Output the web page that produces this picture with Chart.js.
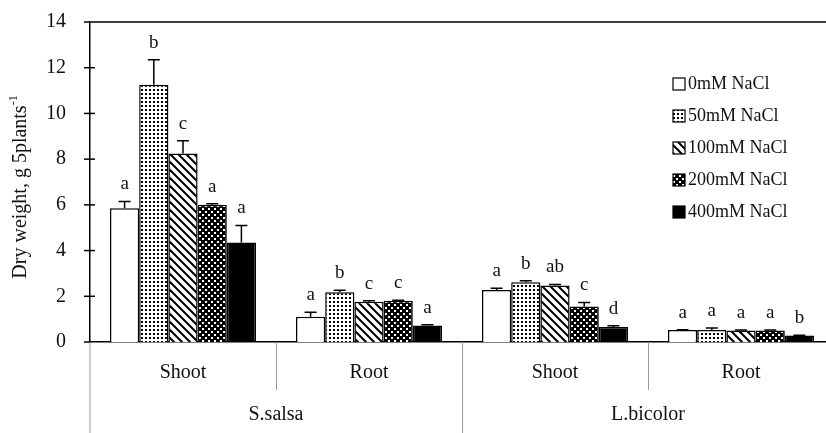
<!DOCTYPE html>
<html>
<head>
<meta charset="utf-8">
<script src="https://cdn.jsdelivr.net/npm/chart.js@4"></script>
<style>
  html, body { margin: 0; padding: 0; background: #fff; overflow: hidden; }
  #wrap { width: 834px; height: 433px; }
</style>
</head>
<body>
<div id="wrap"><canvas id="myChart" width="834" height="433"></canvas></div>
<script>
// categories
var subLabels = ['Shoot', 'Root', 'Shoot', 'Root'];
var groupLabels = ['S.salsa', 'L.bicolor'];
var seriesNames = ['0mM NaCl', '50mM NaCl', '100mM NaCl', '200mM NaCl', '400mM NaCl'];

// dry weight, g 5plants-1
var dw0 = [5.85, 1.10, 2.27, 0.52];
var dw50 = [11.25, 2.18, 2.61, 0.52];
var dw100 = [8.25, 1.76, 2.47, 0.50];
var dw200 = [6.00, 1.80, 1.55, 0.50];
var dw400 = [4.35, 0.72, 0.66, 0.28];

// standard errors
var se0 = [0.30, 0.20, 0.08, 0.02];
var se50 = [1.10, 0.08, 0.07, 0.09];
var se100 = [0.55, 0.05, 0.05, 0.02];
var se200 = [0.05, 0.03, 0.18, 0.02];
var se400 = [0.75, 0.04, 0.05, 0.02];

// significance letters
var let0 = ['a', 'a', 'a', 'a'];
var let50 = ['b', 'b', 'b', 'a'];
var let100 = ['c', 'c', 'ab', 'a'];
var let200 = ['a', 'c', 'c', 'a'];
var let400 = ['a', 'a', 'd', 'b'];

var yTicks = [0, 2, 4, 6, 8, 10, 12, 14];

var FONT = '"Liberation Serif", "Times New Roman", serif';

function makePattern(kind) {
    var c = document.createElement('canvas');
    var ctx = c.getContext('2d');
    if (kind === 'white') {
        return '#ffffff';
    }
    if (kind === 'black') {
        return '#000000';
    }
    if (kind === 'dots') {
        c.width = 4; c.height = 4;
        ctx.fillStyle = '#fff';
        ctx.fillRect(0, 0, 4, 4);
        ctx.fillStyle = '#000';
        ctx.fillRect(1, 1, 2, 2);
    } else if (kind === 'diag') {
        c.width = 8; c.height = 8;
        ctx.fillStyle = '#fff';
        ctx.fillRect(0, 0, 8, 8);
        ctx.strokeStyle = '#000';
        ctx.lineWidth = 2;
        ctx.beginPath();
        ctx.moveTo(-2, -2); ctx.lineTo(10, 10);
        ctx.moveTo(-2, 6); ctx.lineTo(2, 10);
        ctx.moveTo(6, -2); ctx.lineTo(10, 2);
        ctx.stroke();
    } else if (kind === 'cross') {
        c.width = 6; c.height = 6;
        ctx.fillStyle = '#000';
        ctx.fillRect(0, 0, 6, 6);
        ctx.fillStyle = '#fff';
        ctx.fillRect(1, 1, 2, 2);
        ctx.fillRect(4, 4, 2, 2);
    }
    return document.createElement('canvas').getContext('2d').createPattern(c, 'repeat');
}

var fills = [makePattern('white'), makePattern('dots'), makePattern('diag'), makePattern('cross'), makePattern('black')];
var allValues = [dw0, dw50, dw100, dw200, dw400];
var allErrors = [se0, se50, se100, se200, se400];
var allLetters = [let0, let50, let100, let200, let400];

// error bars + letters
var errorBars = {
    id: 'errorBars',
    afterDatasetsDraw(chart) {
        var ctx = chart.ctx;
        var y = chart.scales.y;
        ctx.save();
        ctx.strokeStyle = '#000';
        ctx.lineWidth = 1.5;
        ctx.fillStyle = '#111';
        ctx.font = '19px ' + FONT;
        ctx.textAlign = 'center';
        ctx.textBaseline = 'alphabetic';
        chart.data.datasets.forEach((ds, di) => {
            var meta = chart.getDatasetMeta(di);
            meta.data.forEach((bar, i) => {
                var top = y.getPixelForValue(ds.data[i] + ds.errors[i]);
                ctx.beginPath();
                ctx.moveTo(bar.x, bar.y);
                ctx.lineTo(bar.x, top);
                ctx.moveTo(bar.x - 6, top);
                ctx.lineTo(bar.x + 6, top);
                ctx.stroke();
                ctx.fillText(ds.letters[i], bar.x, top - 12);
            });
        });
        ctx.restore();
    }
};

// frame, y ticks, two-level x labels, axis title, legend
var decor = {
    id: 'decor',
    afterDraw(chart) {
        var ctx = chart.ctx;
        var a = chart.chartArea;
        var x = chart.scales.x;
        var y = chart.scales.y;
        ctx.save();
        ctx.strokeStyle = '#000';
        ctx.lineWidth = 1.5;
        // top line
        ctx.beginPath();
        ctx.moveTo(a.left, a.top);
        ctx.lineTo(chart.width, a.top);
        ctx.stroke();
        // y tick marks crossing the axis
        yTicks.forEach(v => {
            var py = y.getPixelForValue(v);
            ctx.beginPath();
            ctx.moveTo(a.left - 6, py);
            ctx.lineTo(a.left + (v === 14 || v === 0 ? 0 : 5), py);
            ctx.stroke();
        });
        // dividers below x axis
        ctx.strokeStyle = '#999';
        ctx.lineWidth = 1;
        ctx.beginPath();
        ctx.moveTo(a.left, a.bottom);
        ctx.lineTo(a.left, chart.height);
        for (var i = 0; i < subLabels.length - 1; i++) {
            var bx = (x.getPixelForValue(i) + x.getPixelForValue(i + 1)) / 2;
            var isGroup = (i % 2 === 1);
            ctx.moveTo(Math.round(bx) + 0.5, a.bottom);
            ctx.lineTo(Math.round(bx) + 0.5, isGroup ? chart.height : a.bottom + 48);
        }
        ctx.stroke();
        // labels
        ctx.fillStyle = '#111';
        ctx.font = '20px ' + FONT;
        ctx.textAlign = 'center';
        ctx.textBaseline = 'middle';
        subLabels.forEach((s, i) => {
            ctx.fillText(s, x.getPixelForValue(i), a.bottom + 31);
        });
        groupLabels.forEach((g, k) => {
            var cx = (x.getPixelForValue(2 * k) + x.getPixelForValue(2 * k + 1)) / 2;
            ctx.fillText(g, cx, a.bottom + 73);
        });
        // y axis title with superscript
        ctx.save();
        ctx.translate(21, 187);
        ctx.rotate(-Math.PI / 2);
        var main = 'Dry weight, g 5plants';
        ctx.font = '12px ' + FONT;
        var supW = ctx.measureText('-1').width;
        ctx.font = '20px ' + FONT;
        var mw = ctx.measureText(main).width;
        var start = -(mw + supW) / 2;
        ctx.textAlign = 'left';
        ctx.textBaseline = 'middle';
        ctx.fillText(main, start, 0);
        ctx.font = '12px ' + FONT;
        ctx.fillText('-1', start + mw, -7);
        ctx.restore();
        // legend
        ctx.font = '18px ' + FONT;
        ctx.textAlign = 'left';
        ctx.textBaseline = 'middle';
        chart.data.datasets.forEach((ds, di) => {
            var ly = 84 + di * 32;
            ctx.fillStyle = ds.backgroundColor;
            ctx.fillRect(673, ly - 6, 12, 12);
            ctx.strokeStyle = '#000';
            ctx.lineWidth = 1.2;
            ctx.strokeRect(673, ly - 6, 12, 12);
            ctx.fillStyle = '#111';
            ctx.fillText(ds.label, 688, ly);
        });
        ctx.restore();
    }
};

var datasets = seriesNames.map((name, i) => ({
    label: name,
    data: allValues[i],
    errors: allErrors[i],
    letters: allLetters[i],
    backgroundColor: fills[i],
    borderColor: '#000',
    borderWidth: 1.5,
    categoryPercentage: 0.785,
    barPercentage: 1.0
}));

var config = {
    type: 'bar',
    data: {
        labels: subLabels,
        datasets: datasets
    },
    options: {
        responsive: false,
        animation: false,
        layout: { padding: { top: 22, left: 0, right: 0, bottom: 0 } },
        plugins: {
            legend: { display: false },
            tooltip: { enabled: false }
        },
        scales: {
            x: {
                grid: { display: false },
                ticks: { display: false },
                border: { display: true, color: '#000', width: 1.5 },
                afterFit(scale) { scale.height = 91; }
            },
            y: {
                min: 0,
                max: 14,
                grid: { display: false },
                border: { display: true, color: '#000', width: 1.5 },
                ticks: {
                    stepSize: 2,
                    padding: 16,
                    color: '#111',
                    font: { family: FONT, size: 20 }
                },
                afterFit(scale) {
                    scale.width = 90;
                    scale.paddingTop = 0;
                    scale.paddingBottom = 0;
                }
            }
        }
    },
    plugins: [errorBars, decor]
};

var myChart = new Chart(document.getElementById('myChart'), config);
</script>
</body>
</html>
